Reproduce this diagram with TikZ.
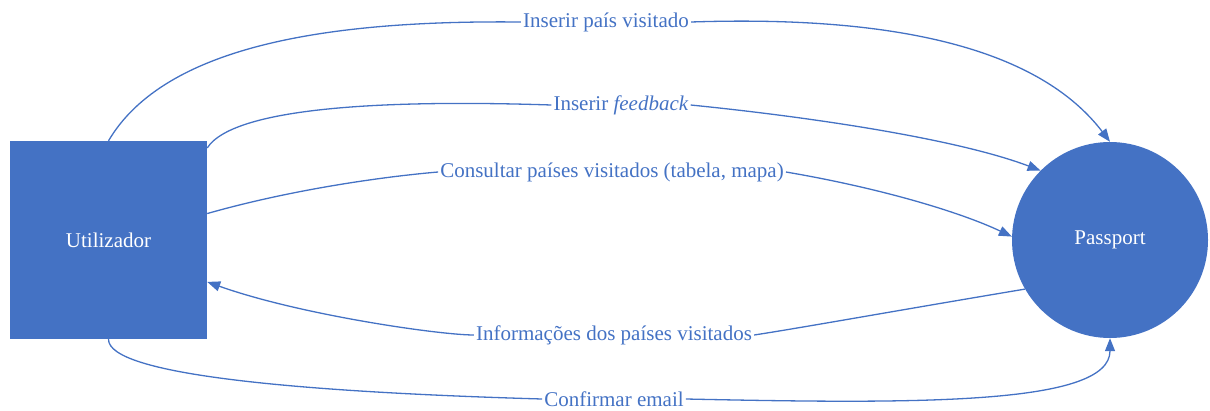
\documentclass[tikz,border=0pt]{standalone}
\usepackage{fontspec}
\setmainfont{Liberation Serif}
\usetikzlibrary{arrows.meta}
\definecolor{flowblue}{RGB}{68,114,196}
\begin{document}
\begin{tikzpicture}[x=1pt,y=-1pt,
  every node/.style={font=\rmfamily\fontsize{21}{25}\selectfont},
  entity/.style={draw=none,fill=flowblue,text=white,minimum width=197pt,minimum height=198pt,inner sep=0pt},
  process/.style={circle,draw=none,fill=flowblue,text=white,minimum size=196pt,inner sep=0pt},
  flowlabel/.style={text=flowblue,inner sep=2pt},
  flow/.style={draw=flowblue,line width=1.3pt},
  flowend/.style={flow,-{Triangle[length=13pt,width=10pt]}}]
\useasboundingbox (0,0) rectangle (1210,410);

\node[entity] (user) at (108.5,240) {Utilizador};
\node[process] (pass) at (1110,240) {Passport};

\node[flowlabel] (l1) at (606,22) {Inserir país visitado};
\node[flowlabel] (l2) at (621,105) {Inserir \textit{feedback}};
\node[flowlabel] (l3) at (612,172) {Consultar países visitados (tabela, mapa)};
\node[flowlabel] (l4) at (614,335) {Informações dos países visitados};
\node[flowlabel] (l5) at (614,399) {Confirmar email};

% Inserir país visitado
\draw[flow] (user.north) .. controls (165,45) and (330,20) .. (l1.west);
\draw[flowend] (l1.east) .. controls (900,15) and (1040,50) .. (pass.north);

% Inserir feedback
\draw[flow] (user.43) .. controls (235,105) and (400,100) .. (l2.west);
\draw[flowend] (l2.east) .. controls (820,118) and (960,140) .. (pass.135);

% Consultar países visitados
\draw[flow] (user.15) .. controls (290,190) and (380,177) .. (l3.west);
\draw[flowend] (l3.east) .. controls (880,188) and (960,212) .. (pass.178);

% Informações dos países visitados
\draw[flow] (pass.210) .. controls (900,310) and (800,328) .. (l4.east);
\draw[flowend] (l4.west) .. controls (440,335) and (300,315) .. (user.-23);

% Confirmar email
\draw[flow] (user.south) .. controls (108,375) and (300,392) .. (l5.west);
\draw[flowend] (l5.east) .. controls (920,404) and (1110,405) .. (pass.south);
\end{tikzpicture}
\end{document}
